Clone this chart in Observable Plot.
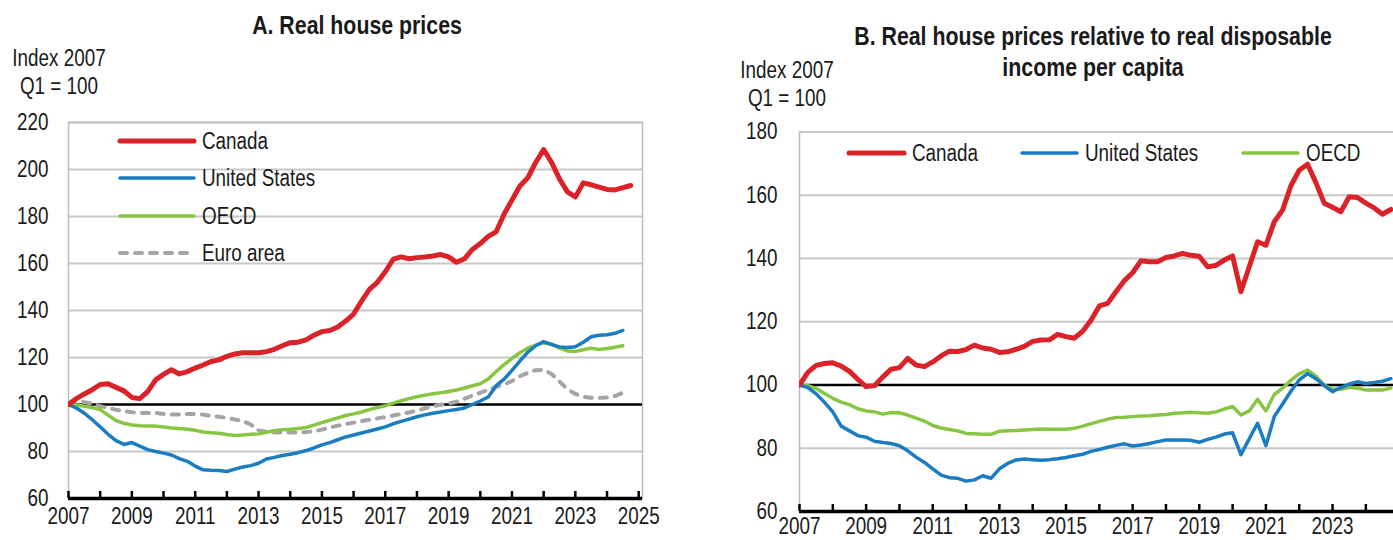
<!DOCTYPE html>
<html><head><meta charset="utf-8">
<script src="https://cdn.jsdelivr.net/npm/d3@7"></script>
<script src="https://cdn.jsdelivr.net/npm/@observablehq/plot@0.6"></script>
<style>
html,body{margin:0;padding:0;background:#fff;overflow:hidden;}
#root{position:relative;width:1393px;height:540px;overflow:hidden;background:#fff;
  font-family:"Liberation Sans",Arial,sans-serif;color:#1a1a1a;}
.abs{position:absolute;white-space:nowrap;transform:scaleX(0.82);transform-origin:50% 50%;}
.title{font-weight:bold;font-size:26px;line-height:30px;text-align:center;}
.unit{font-size:23px;line-height:28px;text-align:center;}
svg.plot{position:absolute;top:0;}
</style></head><body><div id="root"></div>
<script>
const FONT = '"Liberation Sans",Arial,sans-serif';
const NARROW = 0.82;   // horizontal squeeze to mimic a narrow typeface
const START = 2007; // 2007 Q1, quarterly data

// Panel A: Real house prices (Index 2007 Q1 = 100)
const canadaA = [100,102.5,104.5,106.3, 108.5,108.8,107.3,105.8, 103,102.5,105.5,110.5, 112.8,114.8,113,114,
  115.5,116.8,118.3,119, 120.5,121.5,122,122, 122,122.5,123.5,125, 126.3,126.5,127.5,129.5,
  131,131.5,133,135.5, 138.5,144,149,152, 156.5,161.8,162.8,162, 162.5,162.8,163.2,163.8,
  162.8,160.5,162,166, 168.5,171.5,173.5,181, 187,193,196.5,203, 208.5,203,196,190.5,
  188.3,194.3,193.5,192.5, 191.5,191.3,192.3,193.2];
const usA = [100,98.5,96.3,93.5, 90.5,87.3,84.6,83, 83.8,82.3,80.8,80, 79.3,78.5,77,75.8,
  73.8,72.2,72,71.9, 71.5,72.5,73.4,74, 75,76.8,77.5,78.3, 78.8,79.5,80.4,81.5,
  82.8,83.8,85,86.2, 87,87.9,88.7,89.6, 90.5,91.8,92.8,93.8, 94.8,95.6,96.3,96.8,
  97.4,97.9,98.5,100, 101.5,103.2,108,110.8, 114.5,118.5,122.3,125, 126.8,125.5,124.5,124.3,
  124.6,126.5,128.8,129.5, 129.7,130.3,131.5];
const oecdA = [100,99.8,99.3,98.7, 97.8,95.5,93.2,92, 91.3,91,90.8,90.8, 90.4,90,89.8,89.5,
  89,88.3,88,87.8, 87.2,86.8,87,87.3, 87.5,88.2,88.8,89.3, 89.5,89.8,90.2,91.2,
  92.3,93.3,94.3,95.3, 96,96.8,97.8,98.7, 99.5,100.6,101.6,102.5, 103.3,104,104.6,105,
  105.5,106.2,107,108, 108.8,110.8,114,117, 119.6,122,124,125.3, 126.2,125.8,124,122.8,
  122.6,123.3,124,123.4, 123.8,124.4,125];
const euroA = [100,101.2,101,100.3, 99.3,98.5,97.8,97.2, 96.7,96.4,96.4,96.4, 96,95.7,95.8,96,
  96,95.7,95.2,94.8, 94.3,93.6,93,91.5, 89,88.4,88.1,88.1, 88.1,88.1,88.3,88.6,
  89.3,90.2,91,91.7, 92.3,92.9,93.5,94.1, 94.7,95.3,96,96.6, 97.4,98.4,99.2,99.9,
  100.4,101.2,102.5,103.8, 105,106.3,107.5,108.5, 110,112,113.5,114.6, 114.8,113,109.8,106.5,
  104.5,103.3,102.9,102.8, 103,103.6,105];

// Panel B: Real house prices relative to real disposable income per capita
const canadaB = [100,104,106.2,106.8, 107,106,104.3,101.8, 99.5,99.8,102.5,105, 105.5,108.4,106.3,105.8,
  107.3,109.2,110.7,110.6, 111.2,112.6,111.7,111.3, 110.3,110.5,111.3,112.2, 113.8,114.2,114.3,116,
  115.3,114.8,117,120.5, 125,125.8,129.5,133, 135.5,139.3,139,139, 140.3,140.8,141.6,141,
  140.7,137.4,137.8,139.5, 140.8,129.5,137.4,145.3, 144.2,151.6,155.3,163, 167.9,169.8,164,157.5,
  156.2,154.8,159.5,159.3, 157.5,156,154,155.5];
const usB = [100,99.2,97.2,94.5, 91.5,87,85.5,84, 83.5,82.2,81.8,81.5, 80.8,79.2,77.2,75.5,
  73.5,71.5,70.7,70.5, 69.6,70,71.3,70.5, 73.5,75.2,76.3,76.6, 76.4,76.2,76.4,76.7,
  77.1,77.6,78.1,79, 79.6,80.3,80.9,81.4, 80.7,81,81.5,82.1, 82.6,82.6,82.6,82.5,
  81.9,82.8,83.5,84.5, 84.9,78,83,87.9, 80.8,90,94,98, 101.6,103.6,102,99.8,
  97.9,99.2,100.3,101, 100.5,100.8,101.2,102];
const oecdB = [100,99.8,98.9,97.3, 95.8,94.6,93.8,92.5, 91.8,91.5,90.8,91.3, 91.2,90.5,89.5,88.6,
  87.2,86.4,85.9,85.5, 84.7,84.6,84.4,84.4, 85.4,85.5,85.6,85.8, 85.9,86.1,86,86,
  86,86.3,87,87.8, 88.5,89.2,89.7,89.8, 90,90.2,90.3,90.5, 90.7,91.1,91.2,91.4,
  91.2,91.1,91.5,92.4, 93.2,90.5,91.8,95.5, 91.8,97,99,101.5, 103.5,104.7,102.8,100,
  98.7,98.6,99.3,99, 98.4,98.4,98.4,99];

// Axis ticks
const yTicksA = [60,80,100,120,140,160,180,200,220];
const gridA = [80,120,140,160,180,200,220];
const yTicksB = [60,80,100,120,140,160,180];
const gridB = [80,120,140,160,180];
const yearTicksA = d3.range(2007, 2026);
const yearLabelsA = [2007,2009,2011,2013,2015,2017,2019,2021,2023,2025];
const yearTicksB = d3.range(2007, 2025);
const yearLabelsB = [2007,2009,2011,2013,2015,2017,2019,2021,2023];

const COL = {Canada:"#dc2229", US:"#1a7cc1", OECD:"#88c542", Euro:"#a5a5a5"};

const toRows = arr => arr.map((v,i) => ({t: START + i/4, v}));

const root = document.getElementById("root");

// squeeze every text horizontally around its own anchor
function narrow(svg){
  svg.querySelectorAll("text").forEach(t => {
    const tr = t.getAttribute("transform") || "";
    const xa = t.getAttribute("x");
    let pre = "";
    if (xa !== null && /^-?[\d.]+$/.test(xa)) { pre = ` translate(${xa},0)`; t.removeAttribute("x"); }
    t.setAttribute("transform", `${tr}${pre} scale(${NARROW},1)`);
  });
}

function makePanel(opt){
  const plotH = 540 - opt.mTop - opt.mBottom;
  const marks = [
    Plot.ruleY(opt.grid, {stroke:"#c8c8c8", strokeWidth:2}),
    opt.fullFrame ? Plot.frame({stroke:"#bcbcbc", strokeWidth:1.5}) : Plot.ruleX([opt.xDomain[0]], {stroke:"#bcbcbc", strokeWidth:1.5}),
    Plot.ruleY([100], {stroke:"#000", strokeWidth:2.5}),
    Plot.axisY({ticks: opt.yTicks, tickSize:0, tickPadding: opt.yPad, label:null, fontSize:23}),
    Plot.axisX({ticks: opt.yearLabels, tickSize:0, tickPadding: opt.xPad, tickFormat: d => String(d), label:null, fontSize:23}),
    Plot.tickX(opt.yearTicks, {x: d => d, insetTop: plotH - 7, stroke:"#000", strokeWidth:2.5}),
    Plot.ruleY([60], {stroke:"#000", strokeWidth:3.5}),
    ...opt.series.map(s => Plot.line(toRows(s.values), {x:"t", y:"v", stroke:s.color, strokeWidth:s.width,
        strokeDasharray:s.dash, strokeLinecap:"round", strokeLinejoin:"round", clip:true}))
  ];
  const svg = Plot.plot({
    width: opt.width, height: 540,
    marginLeft: opt.mLeft, marginRight: opt.mRight, marginTop: opt.mTop, marginBottom: opt.mBottom,
    x: {domain: opt.xDomain},
    y: {domain: [60, opt.yMax]},
    style: {fontFamily: FONT, fontSize:"23px", color:"#1a1a1a", background:"transparent", overflow:"visible"},
    marks
  });
  narrow(svg);
  svg.classList.add("plot");
  svg.style.left = opt.left + "px";
  root.appendChild(svg);
}

makePanel({
  left:0, width:680, mLeft:68, mRight:38, mTop:122, mBottom:42,
  xDomain:[2007, 2025.12], yMax:220, yTicks:yTicksA, grid:gridA, yPad:20, xPad:9,
  yearTicks:yearTicksA, yearLabels:yearLabelsA, fullFrame:true,
  series:[
    {values:euroA, color:COL.Euro, width:4, dash:"7,8"},
    {values:oecdA, color:COL.OECD, width:3.5},
    {values:usA, color:COL.US, width:3.5},
    {values:canadaA, color:COL.Canada, width:5}
  ]
});
makePanel({
  left:700, width:693, mLeft:99, mRight:0, mTop:131.5, mBottom:29,
  xDomain:[2007, 2024.83], yMax:180, yTicks:yTicksB, grid:gridB, yPad:22, xPad:6,
  yearTicks:yearTicksB, yearLabels:yearLabelsB, fullFrame:false,
  series:[
    {values:oecdB, color:COL.OECD, width:3.5},
    {values:usB, color:COL.US, width:3.5},
    {values:canadaB, color:COL.Canada, width:5}
  ]
});

// Titles and unit labels
function addDiv(cls, text, css){
  const d = document.createElement("div");
  d.className = "abs " + cls;
  d.innerHTML = text;
  Object.assign(d.style, css);
  root.appendChild(d);
}
addDiv("title", "A. Real house prices", {left:"207px", width:"300px", top:"10px"});
addDiv("title", "B. Real house prices relative to real disposable<br>income per capita", {left:"793px", width:"600px", top:"21px", lineHeight:"31px"});
addDiv("unit", "Index 2007<br>Q1 = 100", {left:"0px", width:"118px", top:"44px"});
addDiv("unit", "Index 2007<br>Q1 = 100", {left:"728px", width:"118px", top:"56px"});

// Legends
const ns = "http://www.w3.org/2000/svg";
const leg = document.createElementNS(ns, "svg");
leg.setAttribute("width", 1393); leg.setAttribute("height", 540);
leg.style.cssText = "position:absolute;left:0;top:0;pointer-events:none;";
root.appendChild(leg);
function legItem(x1, x2, y, color, w, dash, label){
  const l = document.createElementNS(ns, "line");
  l.setAttribute("x1", x1); l.setAttribute("x2", x2); l.setAttribute("y1", y); l.setAttribute("y2", y);
  l.setAttribute("stroke", color); l.setAttribute("stroke-width", w); l.setAttribute("stroke-linecap", "round");
  if (dash) l.setAttribute("stroke-dasharray", dash);
  leg.appendChild(l);
  const t = document.createElementNS(ns, "text");
  t.setAttribute("transform", `translate(${x2 + 8},${y}) scale(${NARROW},1)`);
  t.setAttribute("dy", "0.36em");
  t.setAttribute("font-family", FONT); t.setAttribute("font-size", 23); t.setAttribute("fill", "#1a1a1a");
  t.textContent = label;
  leg.appendChild(t);
}
const legendA = [["Canada", COL.Canada, 5, null], ["United States", COL.US, 3.5, null], ["OECD", COL.OECD, 3.5, null], ["Euro area", COL.Euro, 4, "7,8"]];
const legendAy = [141, 178, 216, 253];
legendA.forEach((d,i) => legItem(120, 194, legendAy[i], d[1], d[2], d[3], d[0]));
const legendB = [["Canada", COL.Canada, 5, 849, 904], ["United States", COL.US, 3.5, 1022, 1077], ["OECD", COL.OECD, 3.5, 1243, 1298]];
legendB.forEach(d => legItem(d[3], d[4], 153, d[1], d[2], null, d[0]));
</script></body></html>
